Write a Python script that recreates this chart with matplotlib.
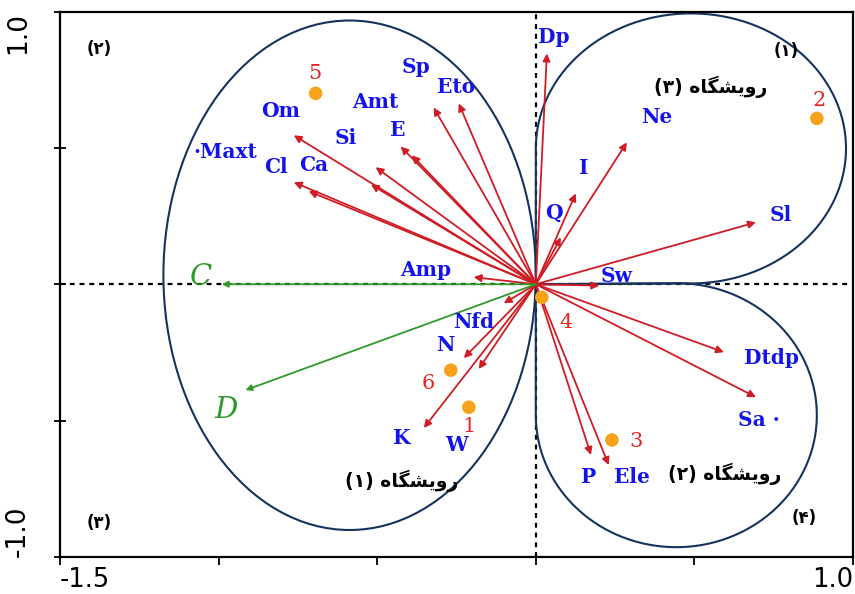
import numpy as np
import matplotlib
matplotlib.use("Agg")
import matplotlib.pyplot as plt
from matplotlib.patches import Ellipse, PathPatch
from matplotlib.path import Path

# ---------------- data ----------------
var_names = ["Dp", "Ne", "I", "Q", "Sl", "Sw", "Om", "Cl", "Ca", "Maxt", "Si", "E",
             "Amt", "Sp", "Eto", "Amp", "Nfd", "N", "W", "K", "Dtdp", "Sa", "P", "Ele"]
var_x = [0.035, 0.287, 0.126, 0.079, 0.694, 0.20, -0.763, -0.763, -0.716, -0.520, -0.505, -0.426,
         -0.391, -0.322, -0.243, -0.196, -0.101, -0.227, -0.180, -0.353, 0.593, 0.694, 0.174, 0.230]
var_y = [0.846, 0.520, 0.333, 0.172, 0.227, -0.005, 0.546, 0.374, 0.341, 0.366, 0.429, 0.505,
         0.473, 0.648, 0.663, 0.026, -0.070, -0.271, -0.311, -0.527, -0.249, -0.414, -0.626, -0.663]
# label anchor positions (data units)
lab_x = [0.057, 0.382, 0.151, 0.057, 0.773, 0.256, -0.804, -0.820, -0.700, -0.978, -0.599, -0.435,
         -0.505, -0.379, -0.252, -0.347, -0.196, -0.284, -0.249, -0.423, 0.744, 0.703, 0.167, 0.303]
lab_y = [0.905, 0.612, 0.425, 0.260, 0.253, 0.030, 0.637, 0.429, 0.436, 0.484, 0.538, 0.564,
         0.667, 0.795, 0.722, 0.051, -0.139, -0.223, -0.590, -0.564, -0.271, -0.498, -0.707, -0.707]
lab_text = ["Dp", "Ne", "I", "Q", "Sl", "Sw", "Om", "Cl", "Ca", "\u00b7Maxt", "Si", "E",
            "Amt", "Sp", "Eto", "Amp", "Nfd", "N", "W", "K", "Dtdp", "Sa \u00b7", "P", "Ele"]

cov_names = ["C", "D"]
cov_x = [-0.99, -0.915]
cov_y = [0.0, -0.388]
cov_lab_x = [-1.054, -0.975]
cov_lab_y = [0.026, -0.462]

site_names = ["1", "2", "3", "4", "5", "6"]
site_x = [-0.211, 0.886, 0.240, 0.019, -0.694, -0.268]
site_y = [-0.451, 0.608, -0.571, -0.048, 0.700, -0.315]
site_lab_x = [-0.211, 0.892, 0.315, 0.095, -0.697, -0.338]
site_lab_y = [-0.520, 0.675, -0.578, -0.140, 0.772, -0.365]

xticks = [-1.5, -1.0, -0.5, 0.0, 0.5, 1.0]
xtick_labels = ["-1.5", "", "", "", "", "1.0"]
yticks = [-1.0, -0.5, 0.0, 0.5, 1.0]
ytick_labels = ["-1.0", "", "", "", "1.0"]

# Persian text (visual order, presentation forms)
word = "\uFEE9\uFE8E\uFB95\uFEB8\uFBFE\uFEED\uFEAD"   # رویشگاه
group_labels = ["(\u06F3) " + word, "(\u06F1) " + word, "(\u06F2) " + word]
group_x = [0.552, -0.423, 0.596]
group_y = [0.725, -0.722, -0.696]
quad_labels = ["(\u06F2)", "(\u06F1)", "(\u06F3)", "(\u06F4)"]
quad_x = [-1.375, 0.789, -1.375, 0.845]
quad_y = [0.864, 0.857, -0.875, -0.857]

# ---------------- style ----------------
RED = "#d01c24"
GREEN = "#2f9a2a"
BLUE = "#1414ea"
NAVY = "#16325e"
ORANGE = "#f7a21b"

fig = plt.figure(figsize=(8.55, 5.94), dpi=100)
ax = fig.add_axes([60 / 855, 1 - 557 / 594, (853 - 60) / 855, (557 - 11.5) / 594])
ax.set_xlim(-1.5, 1.0)
ax.set_ylim(-1.0, 1.0)

for s in ax.spines.values():
    s.set_linewidth(1.6)
    s.set_color("black")

ax.set_xticks(xticks)
ax.set_xticklabels(xtick_labels, fontsize=18.5, family="DejaVu Sans")
ax.set_yticks(yticks)
ax.set_yticklabels(ytick_labels, fontsize=19, family="DejaVu Sans", rotation=90)
ax.tick_params(axis="x", direction="out", length=6, width=1.3, pad=1)
ax.tick_params(axis="y", direction="inout", length=8, width=1.3, pad=17)
xl = ax.get_xticklabels()
xl[0].set_ha("left")
xl[-1].set_ha("right")
yl = ax.get_yticklabels()
yl[0].set_va("bottom")
yl[-1].set_va("top")

# dashed axes
ax.axhline(0, color="black", lw=1.6, ls=(0, (2.2, 2.2)), zorder=1)
ax.axvline(0, color="black", lw=1.6, ls=(0, (2.2, 2.2)), zorder=1)

# left ellipse
ax.add_patch(Ellipse((-0.587, 0.033), 1.174, 1.868, fill=False, ec=NAVY, lw=1.5, zorder=2))

# petals (ellipse arcs tangent to the axes, closed at the origin)
def petal(cx, cy, rx, ry, t0, t1):
    t = np.linspace(t0, t1, 200)
    pts = np.column_stack([cx + rx * np.cos(t), cy + ry * np.sin(t)])
    pts = np.vstack([[0, 0], pts, [0, 0]])
    return Path(pts)

ax.add_patch(PathPatch(petal(0.489, 0.498, 0.489, 0.495, np.pi, -np.pi / 2),
                       fill=False, ec=NAVY, lw=1.5, zorder=2))
ax.add_patch(PathPatch(petal(0.443, -0.480, 0.443, 0.484, np.pi / 2, -np.pi),
                       fill=False, ec=NAVY, lw=1.5, zorder=2))

# arrows
for x, y in zip(var_x, var_y):
    ax.annotate("", xy=(x, y), xytext=(0, 0),
                arrowprops=dict(arrowstyle="-|>", color=RED, lw=1.3,
                                mutation_scale=11, shrinkA=0, shrinkB=0), zorder=3)
for x, y in zip(cov_x, cov_y):
    ax.annotate("", xy=(x, y), xytext=(0, 0),
                arrowprops=dict(arrowstyle="-|>", color=GREEN, lw=1.3,
                                mutation_scale=9, shrinkA=0, shrinkB=0), zorder=3)

# sites
ax.scatter(site_x, site_y, s=95, color=ORANGE, zorder=4, edgecolors="none")
for t, x, y in zip(site_names, site_lab_x, site_lab_y):
    ax.text(x, y, t, color="#e82424", fontsize=15, family="DejaVu Serif",
            ha="center", va="center", zorder=5)

# variable labels
for t, x, y in zip(lab_text, lab_x, lab_y):
    ax.text(x, y, t, color=BLUE, fontsize=14.5, family="DejaVu Serif", weight="bold",
            ha="center", va="center", zorder=5)
for t, x, y in zip(cov_names, cov_lab_x, cov_lab_y):
    ax.text(x, y, t, color=GREEN, fontsize=21, family="DejaVu Serif", style="italic",
            ha="center", va="center", zorder=5)

# group labels
for t, x, y in zip(group_labels, group_x, group_y):
    ax.text(x, y, t, color="black", fontsize=13.5, family="DejaVu Sans", weight="bold",
            ha="center", va="center", zorder=5)
for t, x, y in zip(quad_labels, quad_x, quad_y):
    ax.text(x, y, t, color="black", fontsize=12, family="DejaVu Sans", weight="bold",
            ha="center", va="center", zorder=5)

fig.savefig("out.png", dpi=100)
